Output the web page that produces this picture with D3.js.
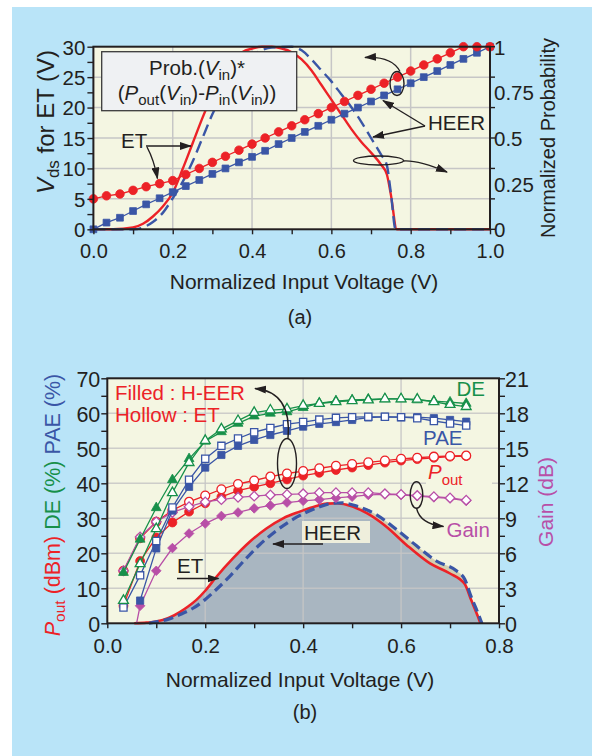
<!DOCTYPE html>
<html>
<head>
<meta charset="utf-8">
<script src="https://cdn.jsdelivr.net/npm/d3@7"></script>
<style>
  html, body { margin: 0; padding: 0; background: #fff; }
  svg { display: block; font-family: "Liberation Sans", Arial, Helvetica, sans-serif; }
</style>
</head>
<body>
<svg id="fig" width="592" height="756"></svg>
<script>
// ---------------- Panel (a) data ----------------
// Input-voltage samples of the drain-bias trajectories
const vinA = [0, 0.033, 0.067, 0.1, 0.133, 0.167, 0.2, 0.233, 0.267, 0.3, 0.333, 0.367, 0.4, 0.433,
  0.467, 0.5, 0.533, 0.567, 0.6, 0.633, 0.667, 0.7, 0.733, 0.767, 0.8, 0.833, 0.867, 0.9, 0.933, 0.967, 1.0];
// Drain voltage (V) for envelope tracking and for HEER
const vdsET = [5.0, 5.5, 5.8, 6.4, 7.0, 7.5, 8.0, 9.0, 10.0, 11.0, 12.0, 13.0, 14.0, 15.0, 16.0, 17.0,
  18.0, 19.0, 20.0, 21.0, 22.0, 23.0, 24.0, 25.0, 26.0, 27.0, 28.0, 29.0, 30.0, 30.0, 30.0];
const vdsHEER = [0, 1.1, 1.9, 3.0, 4.1, 5.1, 6.1, 7.1, 8.1, 9.1, 10.0, 11.0, 11.9, 12.9, 14.0, 15.0,
  16.0, 17.0, 18.0, 19.0, 20.0, 21.0, 22.0, 23.0, 24.0, 25.0, 26.0, 27.0, 28.0, 29.0, 30.0];
// Normalized Prob.(Vin)*(Pout-Pin) curves
const probVinET = [0, 0.05, 0.1, 0.125, 0.15, 0.175, 0.2, 0.225, 0.25, 0.275, 0.3, 0.325, 0.35, 0.375,
  0.4, 0.425, 0.45, 0.475, 0.5, 0.525, 0.55, 0.575, 0.6, 0.625, 0.65, 0.675, 0.7, 0.725, 0.74, 0.75, 0.765, 0.8, 1.0];
const probET = [0, 0, 0.01, 0.03, 0.07, 0.125, 0.2, 0.33, 0.47, 0.61, 0.74, 0.85, 0.92, 0.97,
  0.99, 1.0, 1.0, 0.99, 0.97, 0.93, 0.87, 0.79, 0.71, 0.63, 0.55, 0.48, 0.42, 0.355, 0.3, 0.19, 0, 0, 0];
const probVinHEER = [0, 0.1, 0.125, 0.15, 0.175, 0.2, 0.225, 0.25, 0.275, 0.3, 0.325, 0.35, 0.4, 0.45,
  0.5, 0.525, 0.55, 0.575, 0.6, 0.625, 0.65, 0.675, 0.7, 0.725, 0.74, 0.75, 0.762, 1.0];
const probHEER = [0, 0, 0.01, 0.04, 0.09, 0.17, 0.26, 0.37, 0.5, 0.63, 0.74, 0.83, 0.95, 0.995,
  1.0, 0.98, 0.93, 0.87, 0.81, 0.74, 0.67, 0.59, 0.5, 0.41, 0.35, 0.2, 0, 0];
const ticksXA = [0, 0.2, 0.4, 0.6, 0.8, 1.0];
const ticksVds = [0, 5, 10, 15, 20, 25, 30];
const ticksProb = [0, 0.25, 0.5, 0.75, 1];

// ---------------- Panel (b) data ----------------
const vinB = [0.033, 0.067, 0.1, 0.133, 0.167, 0.2, 0.233, 0.267, 0.3, 0.333, 0.367, 0.4, 0.433,
  0.467, 0.5, 0.533, 0.567, 0.6, 0.633, 0.667, 0.7, 0.733];
const deHEER = [14.5, 24.0, 33.0, 41.0, 47.0, 52.0, 54.7, 57.1, 59.2, 60.0, 60.4, 61.6, 62.9, 63.5,
  63.8, 64.0, 64.1, 64.1, 63.8, 63.5, 63.2, 62.8];
const deET = [6.5, 17.0, 27.0, 37.3, 45.9, 52.2, 55.5, 57.9, 60.2, 60.9, 61.2, 62.2, 62.8, 63.3,
  63.6, 63.8, 64.1, 64.1, 64.0, 63.3, 62.5, 61.9];
const paeHEER = [null, 6.5, 21.4, 32.2, 39.0, 44.5, 48.1, 50.7, 52.4, 53.8, 55.0, 56.2, 57.0, 57.5,
  58.1, 58.8, 59.0, 58.9, 58.9, 58.6, 58.1, 57.6];
const paeET = [4.5, 13.7, 23.5, 33.1, 41.0, 47.0, 50.7, 52.8, 54.6, 55.8, 56.9, 57.5, 58.2, 58.7,
  58.9, 59.0, 59.0, 58.9, 58.6, 57.8, 57.1, 56.5];
const poutHEER = [5.0, 17.8, 24.5, 28.8, 31.9, 34.3, 36.1, 37.9, 39.0, 40.0, 41.1, 42.2, 43.0, 43.8,
  44.5, 45.2, 45.9, 46.5, 46.9, 47.3, 47.6, 47.8];
const poutET = [15.0, 24.3, 29.0, 32.3, 34.7, 36.5, 38.3, 39.8, 40.8, 41.9, 42.8, 43.5, 44.3, 45.0,
  45.5, 46.0, 46.5, 47.0, 47.3, 47.6, 47.8, 47.9];
const gainHEER = [-5.6, 1.5, 4.5, 6.45, 7.7, 8.55, 9.2, 9.5, 9.85, 10.1, 10.35, 10.5, 10.6, 10.75,
  10.85, 11.0, 11.05, 11.0, 10.9, 10.8, 10.7, 10.5];
const gainET = [4.5, 7.4, 8.7, 9.5, 10.0, 10.4, 10.6, 10.8, 10.9, 11.0, 11.05, 11.1, 11.2, 11.2,
  11.2, 11.2, 11.1, 11.05, 10.95, 10.85, 10.75, 10.55];
// Probability-weighted output power distributions (drawn on the left scale)
const wVinET = [0.055, 0.08, 0.1, 0.125, 0.148, 0.165, 0.182, 0.2, 0.223, 0.257, 0.291, 0.325, 0.359,
  0.393, 0.427, 0.448, 0.47, 0.49, 0.531, 0.57, 0.611, 0.659, 0.699, 0.73, 0.743, 0.757, 0.762];
const wET = [0, 0.2, 0.5, 1.5, 3.2, 4.8, 6.7, 9.3, 13.3, 18.6, 23.3, 27.1, 30.0, 31.9, 33.5, 34.2,
  34.3, 33.8, 31.4, 27.6, 22.4, 17.1, 14.3, 11.2, 6.7, 1.9, 0];
const wVinHEER = [0.085, 0.1, 0.125, 0.15, 0.175, 0.2, 0.216, 0.25, 0.28, 0.31, 0.34, 0.37, 0.4, 0.43,
  0.455, 0.48, 0.509, 0.55, 0.59, 0.631, 0.672, 0.713, 0.73, 0.743, 0.757, 0.765];
const wHEER = [0, 0.4, 1.2, 2.6, 4.3, 6.8, 8.8, 13.4, 18.0, 22.3, 25.9, 28.9, 31.3, 33.1, 34.2, 34.4,
  33.5, 31.0, 26.9, 22.2, 17.8, 15.0, 12.6, 7.6, 2.9, 0];
const ticksXB = [0, 0.2, 0.4, 0.6, 0.8];
const ticksLeftB = [0, 10, 20, 30, 40, 50, 60, 70];
const ticksGain = [0, 3, 6, 9, 12, 15, 18, 21];

// ---------------- styling ----------------
const C = {
  red: '#ec2227', blue: '#3a56a6', green: '#17904a', mag: '#b84fa7', ink: '#231f20',
  grid: '#c6c6c6', plot: '#f4f6e2', bg: '#b9e4f8', grey: '#a9b6c1', tan: '#d3cfb0', box: '#eff1f3'
};
const FONT = '"Liberation Sans", Arial, Helvetica, sans-serif';

const svg = d3.select('#fig');
svg.append('rect').attr('width', 592).attr('height', 756).attr('fill', '#fff');
svg.append('rect').attr('x', 12).attr('y', 7).attr('width', 580).attr('height', 749).attr('fill', C.bg);

const defs = svg.append('defs');
defs.append('marker').attr('id', 'arrow').attr('viewBox', '0 0 12 8')
  .attr('refX', 11).attr('refY', 4).attr('markerWidth', 12).attr('markerHeight', 8)
  .attr('markerUnits', 'userSpaceOnUse').attr('orient', 'auto')
  .append('path').attr('d', 'M0,0 L12,4 L0,8 Z').attr('fill', C.ink);

// Rich text: an array of parts {t, it, sub, fill}
function rich(sel, parts, base, subSize, subShift) {
  let shift = 0;
  parts.forEach(p => {
    const ts = sel.append('tspan').text(p.t);
    const want = p.sub ? subShift : 0;
    if (want !== shift) { ts.attr('dy', want - shift); shift = want; }
    if (p.sub) ts.attr('font-size', subSize);
    if (p.it) ts.attr('font-style', 'italic');
    if (p.fill) ts.attr('fill', p.fill);
  });
  return sel;
}

function styleAxis(g, size) {
  g.select('.domain').remove();
  g.selectAll('.tick line').attr('stroke', C.ink).attr('stroke-width', 1.4);
  g.selectAll('.tick text').attr('fill', C.ink).attr('font-size', size).attr('font-family', FONT);
}

function plotSeries(g, xs, ys, x, y, color, type, filled, size, rot) {
  const pts = xs.map((v, i) => [v, ys[i]]).filter(d => d[1] != null);
  g.append('path')
    .attr('d', d3.line().x(d => x(d[0])).y(d => y(d[1]))(pts))
    .attr('fill', 'none').attr('stroke', color).attr('stroke-width', 1.3);
  g.append('g').selectAll('path').data(pts).join('path')
    .attr('transform', d => `translate(${x(d[0])},${y(d[1])})` + (rot ? ' rotate(45)' : ''))
    .attr('d', d3.symbol().type(type).size(size))
    .attr('fill', filled ? color : '#fff')
    .attr('stroke', color).attr('stroke-width', filled ? 0.8 : 1.3);
}

// =============== Panel (a) ===============
const xA = d3.scaleLinear().domain([0, 1]).range([93.4, 490]);
const yA = d3.scaleLinear().domain([0, 30]).range([229.3, 46.7]);
const pA = d3.scaleLinear().domain([0, 1]).range([229.3, 46.7]);
const gA = svg.append('g');

gA.append('rect').attr('x', xA(0)).attr('y', yA(30)).attr('width', xA(1) - xA(0)).attr('height', yA(0) - yA(30))
  .attr('fill', C.plot);
gA.append('g').selectAll('line').data([0.2, 0.4, 0.6, 0.8]).join('line')
  .attr('x1', d => xA(d)).attr('x2', d => xA(d)).attr('y1', yA(0)).attr('y2', yA(30))
  .attr('stroke', C.grid).attr('stroke-width', 1.5);
gA.append('g').selectAll('line').data([5, 10, 15, 20, 25]).join('line')
  .attr('x1', xA(0)).attr('x2', xA(1)).attr('y1', d => yA(d)).attr('y2', d => yA(d))
  .attr('stroke', C.grid).attr('stroke-width', 1.5);

// probability-weighted curves
gA.append('path')
  .attr('d', d3.line().x((d, i) => xA(probVinET[i])).y(d => pA(d)).curve(d3.curveMonotoneX)(probET))
  .attr('fill', 'none').attr('stroke', C.red).attr('stroke-width', 2.4);
gA.append('path')
  .attr('d', d3.line().x((d, i) => xA(probVinHEER[i])).y(d => pA(d)).curve(d3.curveMonotoneX)(probHEER))
  .attr('fill', 'none').attr('stroke', C.blue).attr('stroke-width', 2.4).attr('stroke-dasharray', '12,6');

// drain-bias trajectories
plotSeries(gA, vinA, vdsHEER, xA, yA, C.blue, d3.symbolSquare, true, 46, false);
plotSeries(gA, vinA, vdsET, xA, yA, C.red, d3.symbolCircle, true, 58, false);

// frame
gA.append('rect').attr('x', xA(0)).attr('y', yA(30)).attr('width', xA(1) - xA(0)).attr('height', yA(0) - yA(30))
  .attr('fill', 'none').attr('stroke', C.ink).attr('stroke-width', 2);

// axes
const axXA = gA.append('g').attr('transform', `translate(0,${yA(0)})`)
  .call(d3.axisBottom(xA).tickValues(d3.range(0, 11).map(k => k / 10))
    .tickFormat(d => ticksXA.some(t => Math.abs(t - d) < 1e-9) ? d3.format('.1f')(d) : '').tickSize(5));
styleAxis(axXA, 20);
axXA.selectAll('.tick text').attr('y', 29).attr('dy', 0);

const axYA = gA.append('g').attr('transform', `translate(${xA(0)},0)`)
  .call(d3.axisLeft(yA).tickValues(d3.range(0, 13).map(k => k * 2.5))
    .tickFormat(d => ticksVds.includes(d) ? d : '').tickSize(6));
styleAxis(axYA, 20.5);
axYA.selectAll('.tick text').attr('x', -8).attr('dy', '0.36em');

const axPA = gA.append('g').attr('transform', `translate(${xA(1)},0)`)
  .call(d3.axisRight(pA).tickValues(ticksProb).tickFormat(d => d).tickSize(0));
styleAxis(axPA, 20.5);
axPA.selectAll('.tick text').attr('x', 4).attr('dy', '0.36em');
gA.append('g').selectAll('line').data(ticksVds).join('line')
  .attr('x1', xA(1)).attr('x2', xA(1) + 5).attr('y1', d => yA(d)).attr('y2', d => yA(d))
  .attr('stroke', C.ink).attr('stroke-width', 1.4);

// axis titles
rich(gA.append('text').attr('transform', 'translate(54,122) rotate(-90)').attr('text-anchor', 'middle')
  .attr('font-size', 24).attr('fill', C.ink),
  [{ t: 'V', it: true }, { t: 'ds', sub: true }, { t: ' for ET (V)' }], 24, 17, 5);
gA.append('text').attr('transform', 'translate(555,138) rotate(-90)').attr('text-anchor', 'middle')
  .attr('font-size', 20).attr('fill', C.ink).text('Normalized Probability');
gA.append('text').attr('x', 304).attr('y', 289).attr('text-anchor', 'middle')
  .attr('font-size', 21).attr('fill', C.ink).text('Normalized Input Voltage (V)');
gA.append('text').attr('x', 300).attr('y', 324).attr('text-anchor', 'middle')
  .attr('font-size', 20).attr('fill', C.ink).text('(a)');

// formula box
gA.append('rect').attr('x', 101.7).attr('y', 51.7).attr('width', 195).attr('height', 59)
  .attr('fill', C.box).attr('stroke', '#3a3a3a').attr('stroke-width', 1.3);
rich(gA.append('text').attr('x', 197).attr('y', 75).attr('text-anchor', 'middle').attr('font-size', 20.5).attr('fill', C.ink),
  [{ t: 'Prob.(' }, { t: 'V', it: true }, { t: 'in', sub: true }, { t: ')*' }], 20.5, 15, 5);
rich(gA.append('text').attr('x', 197).attr('y', 100).attr('text-anchor', 'middle').attr('font-size', 20.5).attr('fill', C.ink),
  [{ t: '(' }, { t: 'P', it: true }, { t: 'out', sub: true }, { t: '(' }, { t: 'V', it: true }, { t: 'in', sub: true },
   { t: ')-' }, { t: 'P', it: true }, { t: 'in', sub: true }, { t: '(' }, { t: 'V', it: true }, { t: 'in', sub: true }, { t: '))' }],
  20.5, 15, 5);

// annotations
const ann = gA.append('g').attr('fill', 'none').attr('stroke', C.ink).attr('stroke-width', 1.4);
gA.append('text').attr('x', 121).attr('y', 148).attr('font-size', 20.5).attr('fill', C.ink).text('ET');
ann.append('path').attr('d', 'M146,146 L191,146').attr('marker-end', 'url(#arrow)');
ann.append('path').attr('d', 'M147,147 Q154,160 157.5,178.5').attr('marker-end', 'url(#arrow)');
gA.append('text').attr('x', 428).attr('y', 130).attr('font-size', 20.5).attr('fill', C.ink).text('HEER');
ann.append('path').attr('d', 'M425,126 L383,100.5').attr('marker-end', 'url(#arrow)');
ann.append('path').attr('d', 'M425,126 L373,137').attr('marker-end', 'url(#arrow)');
ann.append('ellipse').attr('cx', 397).attr('cy', 83.5).attr('rx', 7).attr('ry', 12);
ann.append('path').attr('d', 'M400,71.5 Q392,56 365,57.5').attr('marker-end', 'url(#arrow)');
ann.append('ellipse').attr('cx', 378.5).attr('cy', 160.5).attr('rx', 25).attr('ry', 4.5);
ann.append('path').attr('d', 'M403.5,161 Q418,160 447,172').attr('marker-end', 'url(#arrow)');

// =============== Panel (b) ===============
const xB = d3.scaleLinear().domain([0, 0.8]).range([107.3, 499]);
const yB = d3.scaleLinear().domain([0, 70]).range([623.3, 378.3]);
const gB = d3.scaleLinear().domain([0, 21]).range([623.3, 378.3]);
const pb = svg.append('g');

pb.append('rect').attr('x', xB(0)).attr('y', yB(70)).attr('width', xB(0.8) - xB(0)).attr('height', yB(0) - yB(70))
  .attr('fill', C.plot);
defs.append('clipPath').attr('id', 'clipB').append('rect')
  .attr('x', xB(0)).attr('y', yB(70)).attr('width', xB(0.8) - xB(0)).attr('height', yB(0) - yB(70));

// distribution areas
const areaB = (xs) => d3.area().x((d, i) => xB(xs[i])).y0(yB(0)).y1(d => yB(d)).curve(d3.curveMonotoneX);
pb.append('path').attr('d', areaB(wVinHEER)(wHEER)).attr('fill', C.tan);
pb.append('path').attr('d', areaB(wVinET)(wET)).attr('fill', C.grey);

// grid
pb.append('g').selectAll('line').data([0.2, 0.4, 0.6]).join('line')
  .attr('x1', d => xB(d)).attr('x2', d => xB(d)).attr('y1', yB(0)).attr('y2', yB(70))
  .attr('stroke', C.grid).attr('stroke-width', 1.5).attr('stroke-opacity', 0.85);
pb.append('g').selectAll('line').data([10, 20, 30, 40, 50, 60]).join('line')
  .attr('x1', xB(0)).attr('x2', xB(0.8)).attr('y1', d => yB(d)).attr('y2', d => yB(d))
  .attr('stroke', C.grid).attr('stroke-width', 1.5).attr('stroke-opacity', 0.85);

const lineB = (xs) => d3.line().x((d, i) => xB(xs[i])).y(d => yB(d)).curve(d3.curveMonotoneX);
pb.append('path').attr('d', lineB(wVinET)(wET)).attr('fill', 'none').attr('stroke', C.red).attr('stroke-width', 2.6);
pb.append('path').attr('d', lineB(wVinHEER)(wHEER)).attr('fill', 'none').attr('stroke', C.blue)
  .attr('stroke-width', 3.2).attr('stroke-dasharray', '10,5');

// annotation labels that sit inside the plot
pb.append('rect').attr('x', 302).attr('y', 521).attr('width', 68).attr('height', 22).attr('fill', '#eeeedc');
pb.append('text').attr('x', 304).attr('y', 540).attr('font-size', 20.5).attr('fill', C.ink).text('HEER');
pb.append('text').attr('x', 177).attr('y', 573).attr('font-size', 20.5).attr('fill', C.ink).text('ET');
pb.append('rect').attr('x', 426).attr('y', 476).attr('width', 66).attr('height', 12).attr('fill', C.plot);

// measured performance
const sb = pb.append('g').attr('clip-path', 'url(#clipB)');
plotSeries(sb, vinB, poutHEER, xB, yB, C.red, d3.symbolCircle, true, 62, false);
plotSeries(sb, vinB, poutET, xB, yB, C.red, d3.symbolCircle, false, 62, false);
plotSeries(sb, vinB, gainHEER, xB, gB, C.mag, d3.symbolSquare, true, 46, true);
plotSeries(sb, vinB, gainET, xB, gB, C.mag, d3.symbolSquare, false, 46, true);
plotSeries(sb, vinB, paeHEER, xB, yB, C.blue, d3.symbolSquare, true, 52, false);
plotSeries(sb, vinB, paeET, xB, yB, C.blue, d3.symbolSquare, false, 52, false);
plotSeries(sb, vinB, deHEER, xB, yB, C.green, d3.symbolTriangle, true, 42, false);
plotSeries(sb, vinB, deET, xB, yB, C.green, d3.symbolTriangle, false, 42, false);

// frame
pb.append('rect').attr('x', xB(0)).attr('y', yB(70)).attr('width', xB(0.8) - xB(0)).attr('height', yB(0) - yB(70))
  .attr('fill', 'none').attr('stroke', C.ink).attr('stroke-width', 2);

// axes
const axXB = pb.append('g').attr('transform', `translate(0,${yB(0)})`)
  .call(d3.axisBottom(xB).tickValues(d3.range(0, 9).map(k => k / 10))
    .tickFormat(d => ticksXB.some(t => Math.abs(t - d) < 1e-9) ? d3.format('.1f')(d) : '').tickSize(5));
styleAxis(axXB, 20.5);
axXB.selectAll('.tick text').attr('y', 29.4).attr('dy', 0);

const axYB = pb.append('g').attr('transform', `translate(${xB(0)},0)`)
  .call(d3.axisLeft(yB).tickValues(d3.range(0, 15).map(k => k * 5))
    .tickFormat(d => ticksLeftB.includes(d) ? d : '').tickSize(6));
styleAxis(axYB, 21.5);
axYB.selectAll('.tick text').attr('x', -7).attr('dy', '0.36em');

const axGB = pb.append('g').attr('transform', `translate(${xB(0.8)},0)`)
  .call(d3.axisRight(gB).tickValues(d3.range(0, 15).map(k => k * 1.5))
    .tickFormat(d => ticksGain.includes(d) ? d : '').tickSize(6));
styleAxis(axGB, 21.5);
axGB.selectAll('.tick text').attr('x', 6).attr('dy', '0.36em');

// axis titles
rich(pb.append('text').attr('transform', 'translate(60,505) rotate(-90)').attr('text-anchor', 'middle')
  .attr('font-size', 21.5),
  [{ t: 'P', it: true, fill: C.red }, { t: 'out', sub: true, fill: C.red }, { t: ' (dBm) ', fill: C.red },
   { t: 'DE (%) ', fill: C.green }, { t: 'PAE (%)', fill: C.blue }], 21.5, 15.5, 5);
pb.append('text').attr('transform', 'translate(553,502) rotate(-90)').attr('text-anchor', 'middle')
  .attr('font-size', 21).attr('fill', C.mag).text('Gain (dB)');
pb.append('text').attr('x', 300).attr('y', 686.5).attr('text-anchor', 'middle')
  .attr('font-size', 21).attr('fill', C.ink).text('Normalized Input Voltage (V)');
pb.append('text').attr('x', 305).attr('y', 719).attr('text-anchor', 'middle')
  .attr('font-size', 20).attr('fill', C.ink).text('(b)');

// legend and series labels
pb.append('text').attr('x', 115).attr('y', 400).attr('font-size', 20.5).attr('fill', C.red).text('Filled : H-EER');
pb.append('text').attr('x', 115).attr('y', 422).attr('font-size', 20.5).attr('fill', C.red).text('Hollow : ET');
pb.append('text').attr('x', 485).attr('y', 396).attr('text-anchor', 'end').attr('font-size', 20.5).attr('fill', C.green).text('DE');
pb.append('text').attr('x', 423).attr('y', 445).attr('font-size', 20.5).attr('fill', C.blue).text('PAE');
rich(pb.append('text').attr('x', 428).attr('y', 479).attr('font-size', 20.5).attr('fill', C.red),
  [{ t: 'P', it: true }, { t: 'out', sub: true }], 20.5, 15, 6);
pb.append('text').attr('x', 446.5).attr('y', 536.5).attr('font-size', 20.5).attr('fill', C.mag).text('Gain');

const annB = pb.append('g').attr('fill', 'none').attr('stroke', C.ink).attr('stroke-width', 1.4);
annB.append('ellipse').attr('cx', 287).attr('cy', 463.5).attr('rx', 9.5).attr('ry', 25);
annB.append('path').attr('d', 'M288,438.5 Q292,392 255,388.5').attr('marker-end', 'url(#arrow)');
annB.append('path').attr('d', 'M177,578.5 L218.5,578.5').attr('marker-end', 'url(#arrow)');
annB.append('path').attr('d', 'M323,544 L273,544').attr('marker-end', 'url(#arrow)');
annB.append('ellipse').attr('cx', 416.5).attr('cy', 495).attr('rx', 6.3).attr('ry', 13.3);
annB.append('path').attr('d', 'M416.5,508 Q420,524 443.5,526.5').attr('marker-end', 'url(#arrow)');
</script>
</body>
</html>
